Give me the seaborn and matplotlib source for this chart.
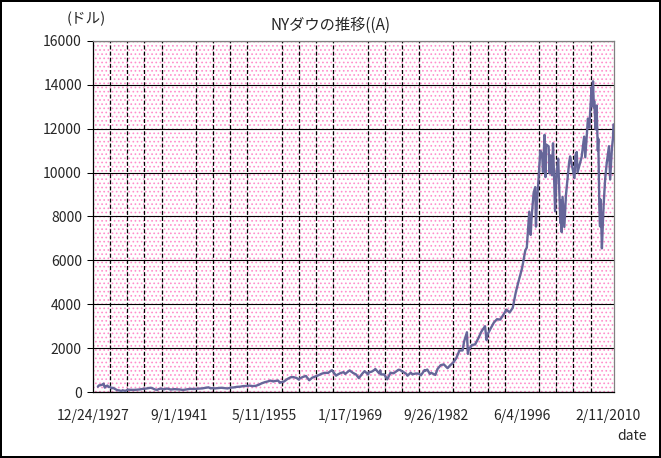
import matplotlib
matplotlib.use("Agg")
import matplotlib.pyplot as plt
import matplotlib.ticker as mticker
from matplotlib.patches import Rectangle
import seaborn as sns
import pandas as pd

# データ（グラフから読み取った概算値）
dates = [
    "1928-10-01", "1928-12-01", "1929-03-01", "1929-06-01", "1929-09-03", "1929-10-15", "1929-11-13",
    "1929-12-15", "1930-04-15", "1930-06-15", "1930-09-10", "1930-12-15", "1931-02-20", "1931-06-01",
    "1931-10-05", "1931-12-15", "1932-03-01", "1932-07-08", "1932-09-07", "1932-12-15", "1933-03-01",
    "1933-07-18", "1933-12-15", "1934-06-15", "1934-12-15", "1935-06-15", "1935-12-15", "1936-06-15",
    "1936-12-15", "1937-03-10", "1937-06-15", "1937-11-20", "1938-03-31", "1938-06-15", "1938-11-10",
    "1939-04-10", "1939-09-12", "1939-12-15", "1940-05-20", "1940-12-15", "1941-06-15", "1941-12-15",
    "1942-04-28", "1942-12-15", "1943-07-15", "1943-12-15", "1944-12-15", "1945-06-15", "1945-12-15",
    "1946-05-29", "1946-10-09", "1946-12-15", "1947-05-17", "1947-12-15", "1948-06-15", "1948-12-15",
    "1949-06-13", "1949-12-15", "1950-06-15", "1950-12-15", "1951-06-15", "1951-12-15", "1952-06-15",
    "1952-12-15", "1953-06-15", "1953-12-15", "1954-06-15", "1954-12-15", "1955-06-15", "1955-12-15",
    "1956-04-06", "1956-10-15", "1956-12-15", "1957-07-12", "1957-10-22", "1957-12-15", "1958-06-15",
    "1958-12-15", "1959-07-15", "1959-12-15", "1960-06-15", "1960-10-25", "1960-12-15", "1961-06-15",
    "1961-12-13", "1962-06-26", "1962-12-15", "1963-06-15", "1963-12-15", "1964-06-15", "1964-12-15",
    "1965-06-28", "1965-12-15", "1966-02-09", "1966-10-07", "1966-12-15", "1967-06-15", "1967-12-15",
    "1968-03-21", "1968-12-03", "1969-06-15", "1969-12-15", "1970-05-26", "1970-12-15", "1971-04-28",
    "1971-11-23", "1971-12-15", "1972-06-15", "1972-12-15", "1973-01-11", "1973-08-22", "1973-10-26",
    "1973-12-05", "1974-06-15", "1974-12-06", "1975-06-15", "1975-12-15", "1976-09-21", "1976-12-15",
    "1977-06-15", "1977-12-15", "1978-02-28", "1978-09-08", "1978-12-15", "1979-06-15", "1979-12-15",
    "1980-04-21", "1980-11-20", "1980-12-15", "1981-04-27", "1981-09-25", "1981-12-15", "1982-08-12",
    "1982-12-15", "1983-06-15", "1983-12-15", "1984-07-24", "1984-12-15", "1985-06-15", "1985-12-15",
    "1986-06-15", "1986-12-15", "1987-03-15", "1987-08-25", "1987-10-19", "1987-12-15", "1988-06-15",
    "1988-12-15", "1989-06-15", "1989-12-15", "1990-07-16", "1990-10-11", "1990-12-15", "1991-06-15",
    "1991-12-15", "1992-06-15", "1992-12-15", "1993-06-15", "1993-12-15", "1994-06-15", "1994-12-15",
    "1995-06-15", "1995-12-15", "1996-06-15", "1996-12-15", "1997-03-15", "1997-08-06", "1997-10-27",
    "1997-12-15", "1998-04-15", "1998-07-17", "1998-08-31", "1998-10-20", "1998-12-15", "1999-05-13",
    "1999-08-25", "1999-10-15", "1999-12-31", "2000-01-14", "2000-03-07", "2000-04-11", "2000-09-06",
    "2000-10-18", "2000-12-15", "2001-03-22", "2001-05-21", "2001-09-21", "2001-12-15", "2002-03-19",
    "2002-07-23", "2002-08-22", "2002-10-09", "2002-11-27", "2003-03-11", "2003-06-15", "2003-12-15",
    "2004-02-11", "2004-10-25", "2004-12-15", "2005-03-04", "2005-04-20", "2005-12-15", "2006-05-10",
    "2006-07-14", "2006-12-15", "2007-03-05", "2007-07-19", "2007-08-16", "2007-10-09", "2007-11-26",
    "2007-12-15", "2008-03-10", "2008-05-02", "2008-07-15", "2008-08-11", "2008-10-10", "2008-11-20",
    "2008-12-15", "2009-01-20", "2009-03-09", "2009-06-12", "2009-09-15", "2009-12-15", "2010-04-26",
    "2010-07-02", "2010-10-15", "2010-12-15", "2011-01-14",
]
dow = [
    240, 300, 310, 330, 381, 260, 199,
    248, 294, 226, 240, 165, 194, 150,
    96, 78, 73, 41, 79, 60, 53,
    108, 100, 96, 104, 118, 144, 157,
    180, 194, 170, 113, 99, 133, 158,
    121, 155, 150, 112, 131, 123, 111,
    93, 119, 145, 136, 152, 165, 193,
    212, 163, 177, 163, 181, 193, 177,
    161, 200, 209, 235, 243, 269, 274,
    292, 268, 281, 334, 404, 451, 488,
    521, 479, 500, 520, 420, 436, 478,
    584, 674, 679, 641, 566, 616, 684,
    731, 535, 652, 707, 763, 832, 874,
    868, 969, 995, 744, 785, 860, 905,
    825, 985, 873, 800, 631, 839, 950,
    797, 890, 929, 1020, 1051, 851, 987,
    800, 802, 577, 879, 852, 1014, 1005,
    916, 831, 742, 880, 805, 842, 839,
    759, 1000, 964, 1024, 825, 875, 777,
    1047, 1222, 1259, 1086, 1212, 1336, 1547,
    1893, 1896, 2305, 2722, 1739, 1939, 2142,
    2169, 2440, 2753, 2999, 2365, 2634, 2907,
    3169, 3319, 3301, 3516, 3754, 3625, 3834,
    4556, 5117, 5655, 6448, 6584, 8222, 7161,
    7908, 9063, 9338, 7539, 8592, 9181, 11000,
    10829, 10035, 11497, 11723, 9796, 11287, 11200,
    9975, 10787, 9878, 11337, 8236, 10022, 10635,
    7702, 8736, 7286, 8896, 7524, 8985, 10454,
    10737, 9750, 10783, 10940, 10010, 10718, 11640,
    10700, 12463, 12050, 13900, 13029, 14165, 12980,
    13265, 11972, 13058, 11000, 11543, 8451, 7552,
    8776, 8000, 6547, 8447, 9712, 10428, 11205,
    9686, 11118, 11578, 12200,
]
tick_labels = ["12/24/1927", "9/1/1941", "5/11/1955", "1/17/1969", "9/26/1982", "6/4/1996", "2/11/2010"]
y_ticks = [0, 2000, 4000, 6000, 8000, 10000, 12000, 14000, 16000]

df = pd.DataFrame({"date": pd.to_datetime(dates), "dow": dow})
tick_pos = pd.to_datetime(tick_labels, format="%m/%d/%Y")
x_start = tick_pos[0]
x_end = pd.Timestamp("2011-01-14")

sns.set_style("white")
plt.rcParams["font.family"] = ["Noto Sans CJK JP", "DejaVu Sans"]
plt.rcParams["hatch.linewidth"] = 0.7

fig = plt.figure(figsize=(6.61, 4.58), dpi=100, facecolor="white",
                 edgecolor="black", linewidth=1.5)
ax = fig.add_axes([93 / 661, 1 - 392 / 458, (613.5 - 93) / 661, (392 - 41) / 458])

# ピンクのドット模様の背景
ax.add_patch(Rectangle((0, 0), 1, 1, transform=ax.transAxes, facecolor="white",
                       edgecolor="#ff8fcc", hatch="....", linewidth=0, zorder=0))

sns.lineplot(data=df, x="date", y="dow", ax=ax, color="#666699", linewidth=1.7, zorder=3)

ax.set_xlim(x_start, x_end)
ax.set_ylim(0, 16000)
ax.set_yticks(y_ticks)
ax.yaxis.set_major_formatter(mticker.FuncFormatter(lambda v, p: f"{int(v)}"))
ax.set_xticks(tick_pos)
ax.set_xticklabels(tick_labels)
# 1000日ごとの縦線
ax.set_xticks(pd.date_range(x_start, periods=31, freq="1000D"), minor=True)

ax.grid(axis="y", which="major", color="black", linewidth=0.8, linestyle="-", zorder=1)
ax.grid(axis="x", which="minor", color="black", linewidth=0.9,
        linestyle=(0, (3.2, 1.7)), zorder=1)
ax.set_axisbelow(True)

ax.tick_params(axis="y", which="major", length=4.5, width=0.75, color="black",
               pad=3.5, labelsize=10, left=True)
ax.tick_params(axis="x", which="both", length=0, pad=12.5, labelsize=10)

for side in ["left", "bottom"]:
    ax.spines[side].set_color("black")
    ax.spines[side].set_linewidth(0.9)
for side in ["top", "right"]:
    ax.spines[side].set_color("#808080")
    ax.spines[side].set_linewidth(0.9)

ax.set_xlabel("")
ax.set_ylabel("")

fig.text(0.5, 1 - 25 / 458, "NYダウの推移((A)", ha="center", va="center", fontsize=11)
fig.text(86 / 661, 1 - 19 / 458, "(ドル)", ha="center", va="center", fontsize=10.5)
fig.text(632 / 661, 1 - 436 / 458, "date", ha="center", va="center", fontsize=10)

fig.savefig("out.png", dpi=100, facecolor="white", edgecolor="black")
